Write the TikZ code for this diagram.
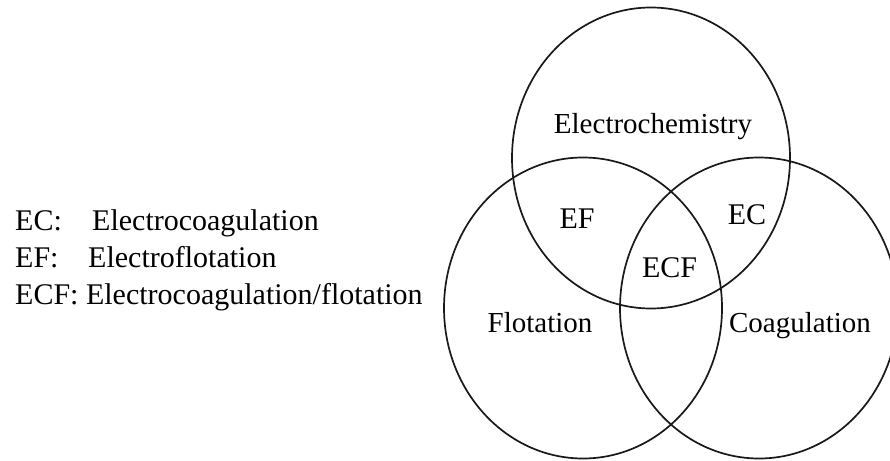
\documentclass[tikz,border=0pt]{standalone}
\usepackage{fontspec}
\setmainfont{Liberation Serif}
\usetikzlibrary{shapes.geometric}
\begin{document}
\begin{tikzpicture}[x=1pt,y=-1pt,
  ring/.style={draw=black!90, line width=1.7pt, ellipse, inner sep=0pt,
    minimum width=278pt, minimum height=301pt},
  lbl/.style={font=\fontsize{30}{36}\selectfont, inner sep=0pt, anchor=base},
  leg/.style={font=\fontsize{30}{36}\selectfont, inner sep=0pt, anchor=base west}]
\useasboundingbox (0,0) rectangle (890,460);
\clip (0,0) rectangle (890,460);
\fill[white] (0,0) rectangle (890,460);
% circles
\node[ring] (top) at (651,158) {};
\node[ring] (left) at (583,308) {};
\node[ring] (right) at (759,308) {};
% labels in circles
\node[lbl, font=\fontsize{29}{35}\selectfont] (lchem) at (653,133) {Electrochemistry};
\node[lbl] (lef) at (577,228) {EF};
\node[lbl] (lec) at (747,224) {EC};
\node[lbl] (lecf) at (669.5,277) {ECF};
\node[lbl, font=\fontsize{29}{35}\selectfont] (lflo) at (540,332) {Flotation};
\node[lbl, font=\fontsize{29}{35}\selectfont] (lcoa) at (800,332) {Coagulation};
% legend
\node[leg] (k1) at (15,230) {EC:};
\node[leg] (v1) at (92,230) {Electrocoagulation};
\node[leg] (k2) at (15,267) {EF:};
\node[leg] (v2) at (88,267) {Electroflotation};
\node[leg] (k3) at (15,304) {ECF: Electrocoagulation/flotation};
\end{tikzpicture}
\end{document}
